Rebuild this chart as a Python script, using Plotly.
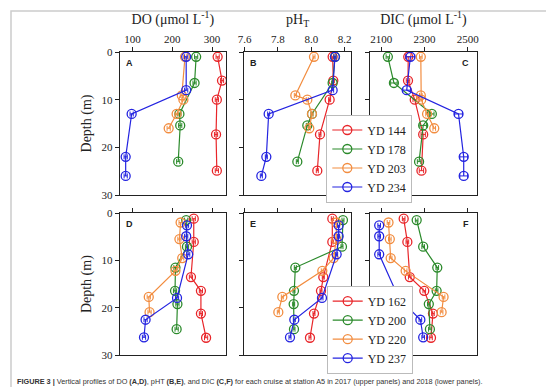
import plotly.graph_objects as go

# ---------------- data ----------------
cruises_2017 = ["YD 144", "YD 178", "YD 203", "YD 234"]
cruises_2018 = ["YD 162", "YD 200", "YD 220", "YD 237"]

# 2017 (upper panels)
depth_144 = [1, 6, 10, 17.3, 24.9]
depth_178 = [1, 6.5, 13, 15.4, 23]
depth_203 = [1, 9.1, 10, 13, 16]
depth_234 = [1, 8, 13, 22, 26]

do_144 = [314, 325, 312, 310, 312]
do_178 = [260, 256, 218, 220, 215]
do_203 = [232, 224, 228, 211, 191]
do_234 = [235, 235, 98, 83, 83]

ph_144 = [8.128, 8.132, 8.11, 8.052, 8.036]
ph_178 = [8.142, 8.128, 8.004, 7.976, 7.916]
ph_203 = [8.016, 7.904, 7.976, 8.004, 7.988]
ph_234 = [8.142, 8.128, 7.744, 7.73, 7.70]

dic_144 = [2225, 2224, 2255, 2294, 2286]
dic_178 = [2131, 2159, 2334, 2294, 2275]
dic_203 = [2283, 2283, 2285, 2312, 2345]
dic_234 = [2235, 2218, 2457, 2481, 2481]

dic_err_144 = [12, 8, 8, 10, 10]
dic_err_178 = [8, 15, 10, 15, 8]
dic_err_203 = [6, 6, 6, 6, 6]
dic_err_234 = [20, 18, 18, 18, 18]

# 2018 (lower panels)
depth_162 = [1.2, 6.1, 13.5, 16.4, 21.2, 26.3]
depth_200 = [1.5, 7.1, 11.5, 16.4, 19.2, 24.5]
depth_220 = [2, 5.5, 9.5, 12.2, 17.7, 20.9]
depth_237 = [2.6, 4.9, 8.7, 17.9, 22.5, 26.2]

do_162 = [254, 254, 247, 272, 272, 285]
do_200 = [235, 237, 208, 207, 213, 211]
do_220 = [221, 218, 225, 208, 141, 143]
do_237 = [237, 235, 240, 212, 133, 129]

ph_162 = [8.126, 8.126, 8.072, 8.058, 8.016, 7.992]
ph_200 = [8.19, 8.184, 7.904, 7.896, 7.894, 7.896]
ph_220 = [8.15, 8.15, 8.134, 8.066, 7.826, 7.802]
ph_237 = [8.164, 8.164, 8.152, 8.064, 7.898, 7.872]

dic_162 = [2204, 2221, 2232, 2299, 2339, 2330]
dic_200 = [2264, 2294, 2359, 2356, 2320, 2325]
dic_220 = [2134, 2140, 2144, 2213, 2388, 2379]
dic_237 = [2091, 2091, 2091, 2181, 2281, 2294]

do_ticks = [100, 200, 300]
ph_ticks = [7.6, 7.8, 8.0, 8.2]
dic_ticks = [2100, 2300, 2500]
depth_ticks = [0, 10, 20, 30]

colors = ["#e8262a", "#2b8a2b", "#f28d40", "#2424e0"]

# ---------------- figure ----------------
W, H = 554, 387
fig = go.Figure()

SERIF = "Liberation Serif, Times New Roman, serif"
SANS = "Liberation Sans, Arial, sans-serif"


def px_x(a, b):
    return [a / W, b / W]


def px_y(top, bottom):
    return [1 - bottom / H, 1 - top / H]


col_x = [px_x(111.7, 218.0), px_x(236.0, 343.3), px_x(362.3, 468.5)]
row_y = [px_y(44, 187), px_y(205, 347.3)]

ranges = [[68, 335], [7.596, 8.24], [2050, 2540]]
ticks = [do_ticks, ph_ticks, dic_ticks]
tickfmt = ["d", ".1f", "d"]
titles = ["DO (μmol L<sup>-1</sup>)", "pH<sub>T</sub>", "DIC (μmol L<sup>-1</sup>)"]

axis_common = dict(showline=True, linecolor="#222", linewidth=1.2, mirror=True,
                   ticks="outside", ticklen=4, tickcolor="#222", tickwidth=1,
                   showgrid=False, zeroline=False, automargin=False,
                   tickfont=dict(family=SERIF, size=11, color="#222"))

letters = ["A", "B", "C", "D", "E", "F"]
idx = 0
for r in range(2):
    for c in range(3):
        idx += 1
        xa = "xaxis" if idx == 1 else f"xaxis{idx}"
        ya = "yaxis" if idx == 1 else f"yaxis{idx}"
        xr = "x" if idx == 1 else f"x{idx}"
        yr = "y" if idx == 1 else f"y{idx}"
        xdict = dict(axis_common, domain=col_x[c], range=ranges[c], tickvals=ticks[c],
                     tickformat=tickfmt[c], side="top", anchor=yr, showticklabels=(r == 0))
        if r == 0:
            xdict["title"] = dict(text=titles[c], font=dict(family=SERIF, size=14, color="#222"),
                                  standoff=4)
        ydict = dict(axis_common, domain=row_y[r], range=[30, 0], tickvals=depth_ticks,
                     anchor=xr, showticklabels=(c == 0))
        if c == 0:
            ydict["title"] = dict(text="Depth (m)", font=dict(family=SERIF, size=14, color="#222"),
                                  standoff=6)
        fig.update_layout({xa: xdict, ya: ydict})
        right = (c == 2)
        fig.add_annotation(text=f"<b>{letters[idx-1]}</b>", xref=f"{xr} domain", yref=f"{yr} domain",
                           x=0.95 if right else 0.04, y=0.975,
                           xanchor="right" if right else "left", yanchor="top", showarrow=False,
                           font=dict(family=SANS, size=9, color="#222"))

upper = [
    (cruises_2017[0], depth_144, do_144, ph_144, dic_144, dic_err_144),
    (cruises_2017[1], depth_178, do_178, ph_178, dic_178, dic_err_178),
    (cruises_2017[2], depth_203, do_203, ph_203, dic_203, dic_err_203),
    (cruises_2017[3], depth_234, do_234, ph_234, dic_234, dic_err_234),
]
lower = [
    (cruises_2018[0], depth_162, do_162, ph_162, dic_162),
    (cruises_2018[1], depth_200, do_200, ph_200, dic_200),
    (cruises_2018[2], depth_220, do_220, ph_220, dic_220),
    (cruises_2018[3], depth_237, do_237, ph_237, dic_237),
]


def add(name, x, y, color, xr, yr, legend, show, err):
    fig.add_trace(go.Scatter(
        x=x, y=y, name=name, mode="lines+markers", xaxis=xr, yaxis=yr,
        legend=legend, showlegend=show, legendgroup=name,
        line=dict(color=color, width=1.2),
        marker=dict(symbol="circle-open", size=9, color=color, line=dict(width=1.3)),
        error_x=err,
    ))


for i, (name, d, do, ph, dic, derr) in enumerate(upper):
    col = colors[i]
    add(name, do, d, col, "x", "y", "legend", False,
        dict(type="constant", value=4, color=col, thickness=1, width=2.5))
    add(name, ph, d, col, "x2", "y2", "legend", True,
        dict(type="constant", value=0.006, color=col, thickness=1, width=2.5))
    add(name, dic, d, col, "x3", "y3", "legend", False,
        dict(type="data", array=derr, color=col, thickness=1, width=2.5))

for i, (name, d, do, ph, dic) in enumerate(lower):
    col = colors[i]
    add(name, do, d, col, "x4", "y4", "legend2", False,
        dict(type="constant", value=4, color=col, thickness=1, width=2.5))
    add(name, ph, d, col, "x5", "y5", "legend2", True,
        dict(type="constant", value=0.006, color=col, thickness=1, width=2.5))
    add(name, dic, d, col, "x6", "y6", "legend2", False,
        dict(type="constant", value=6, color=col, thickness=1, width=2.5))

legend_common = dict(bgcolor="white", bordercolor="#bbbbbb", borderwidth=1,
                     font=dict(family=SERIF, size=12, color="#222"),
                     itemwidth=30, xanchor="left", yanchor="middle", tracegroupgap=0)

fig.update_layout(
    width=W, height=H,
    margin=dict(l=0, r=0, t=0, b=0, autoexpand=False),
    paper_bgcolor="white", plot_bgcolor="white",
    legend=dict(legend_common, x=318.3 / W, y=1 - 150.5 / H),
    legend2=dict(legend_common, x=318.7 / W, y=1 - 321.7 / H),
)

# outer frame
fig.add_shape(type="rect", xref="paper", yref="paper", x0=3 / W, x1=545 / W,
              y0=1 - 381 / H, y1=1 - 3 / H, line=dict(color="#cccccc", width=1.5), layer="below")

caption = ("<b>FIGURE 3 |</b> Vertical profiles of DO <b>(A,D)</b>, pHT <b>(B,E)</b>, and DIC "
           "<b>(C,F)</b> for each cruise at station A5 in 2017 (upper panels) and 2018 (lower panels).")
fig.add_annotation(text=caption, xref="paper", yref="paper", x=7 / W, y=1 - 373 / H,
                   xanchor="left", yanchor="middle", showarrow=False,
                   font=dict(family=SANS, size=7.3, color="#333"))

fig.write_html("out.html")
